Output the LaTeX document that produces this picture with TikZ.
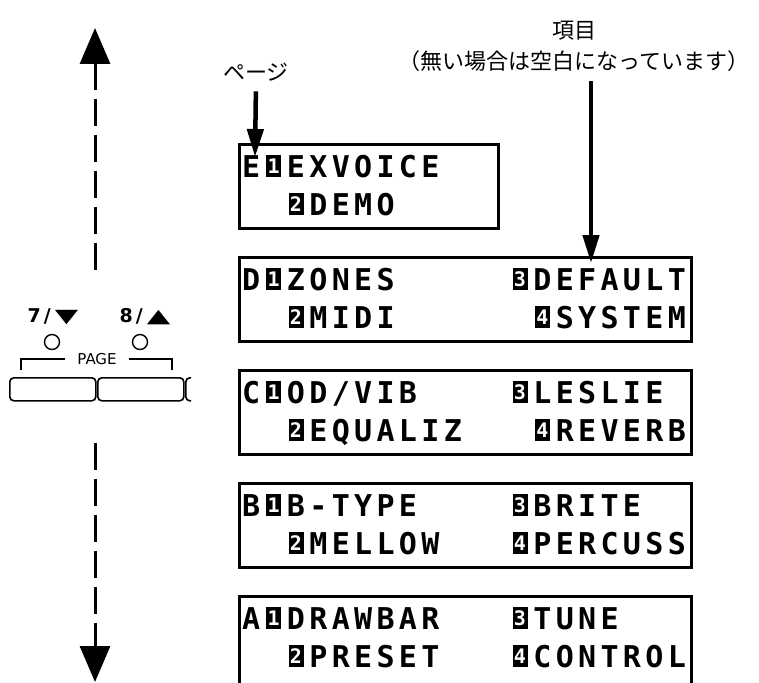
\documentclass[tikz,border=0pt]{standalone}
\usepackage{fontspec}
\usepackage{graphicx}
\usetikzlibrary{arrows.meta, positioning, calc}

\newfontfamily\lcdfont{DejaVu Sans Mono}
\newfontfamily\jpfont{Noto Sans CJK JP}
\newfontfamily\panelfont{DejaVu Sans}

% inverted digit cell of the display
\newcommand\inv[1]{\makebox[15pt]{\rlap{\rule{15pt}{22pt}}\makebox[15pt]{\raisebox{3.5pt}{\textcolor{white}{\fontsize{20}{20}\selectfont\bfseries #1}}}}}

% one display row: x of first cell, baseline, characters
\newcommand\lcdrow[3]{%
  \foreach \ch [count=\k from 0] in {#3}
    \node[lcdchar] at (#1+\k*22.4+11.2, #2) {\ch};}

\begin{document}
\begin{tikzpicture}[x=1pt, y=-1pt,
  lcdbox/.style={draw, line width=2.5pt, anchor=north west, inner sep=0pt, minimum height=84pt},
  lcdchar/.style={anchor=base, inner sep=0pt, font=\lcdfont\bfseries\fontsize{30}{30}\selectfont},
  callout/.style={line width=4.5pt, -{Triangle[width=16pt,length=28pt]}},
  pagearrow/.style={line width=3pt, dash pattern=on 27pt off 9pt, -{Triangle[width=30pt,length=36pt]}},
  pagebtn/.style={draw, line width=1.6pt, rounded corners=4pt, anchor=north west, minimum width=86pt, minimum height=23pt, inner sep=0pt},
  keylbl/.style={font=\panelfont\bfseries\fontsize{19}{19}\selectfont, inner sep=0pt},
  jplabel/.style={font=\jpfont\fontsize{22}{31}\selectfont, align=center, inner sep=0pt}]

\clip (0,0) rectangle (759,682);
\fill[white] (0,0) rectangle (759,682);

% page scroll arrows
\coordinate (upStart) at (95,270);
\coordinate (upEnd) at (95,28);
\coordinate (downStart) at (95,443);
\coordinate (downEnd) at (95,682);
\draw[pagearrow] (upStart) -- (upEnd);
\draw[pagearrow] (downStart) -- (downEnd);

% PAGE buttons
\node[keylbl] (keyDown) at (53,317) {7\kern3pt/\kern4pt\scalebox{1.6}[1]{▼}};
\node[keylbl] (keyUp) at (145,317) {8\kern3pt/\kern4pt\scalebox{1.6}[1]{▲}};
\node[circle, draw, line width=1.4pt, minimum size=15pt, inner sep=0pt] (ledDown) at (52,342) {};
\node[circle, draw, line width=1.4pt, minimum size=15pt, inner sep=0pt] (ledUp) at (140,342) {};
\node[font=\panelfont\fontsize{15}{15}\selectfont, inner xsep=12pt, inner ysep=0pt] (pageLbl) at (97,359) {PAGE};
\draw[line width=1.5pt] (pageLbl.west) -| (21,370);
\draw[line width=1.5pt] (pageLbl.east) -| (172,370);
\node[pagebtn] (btnDown) at (9,377) {};
\node[pagebtn] (btnUp) at (97,377) {};
\begin{scope}
  \clip (183,370) rectangle (191,405);
  \node[pagebtn] (btnNext) at (185,377) {};
\end{scope}

% display pages
\node[lcdbox, minimum width=259pt] (boxE) at (238,143) {};
\node[lcdbox, minimum width=452pt] (boxD) at (238,256) {};
\node[lcdbox, minimum width=452pt] (boxC) at (238,369) {};
\node[lcdbox, minimum width=452pt] (boxB) at (238,482) {};
\node[lcdbox, minimum width=452pt, minimum height=110pt] (boxA) at (238,595) {};

\lcdrow{240}{177}{E,\inv{1},E,X,V,O,I,C,E}
\lcdrow{240}{215}{{},{},\inv{2},D,E,M,O}
\lcdrow{240}{290}{D,\inv{1},Z,O,N,E,S,{},{},{},{},{},\inv{3},D,E,F,A,U,L,T}
\lcdrow{240}{328}{{},{},\inv{2},M,I,D,I,{},{},{},{},{},{},\inv{4},S,Y,S,T,E,M}
\lcdrow{240}{403}{C,\inv{1},O,D,/,V,I,B,{},{},{},{},\inv{3},L,E,S,L,I,E}
\lcdrow{240}{441}{{},{},\inv{2},E,Q,U,A,L,I,Z,{},{},{},\inv{4},R,E,V,E,R,B}
\lcdrow{240}{516}{B,\inv{1},B,-,T,Y,P,E,{},{},{},{},\inv{3},B,R,I,T,E}
\lcdrow{240}{554}{{},{},\inv{2},M,E,L,L,O,W,{},{},{},\inv{4},P,E,R,C,U,S,S}
\lcdrow{240}{629}{A,\inv{1},D,R,A,W,B,A,R,{},{},{},\inv{3},T,U,N,E}
\lcdrow{240}{667}{{},{},\inv{2},P,R,E,S,E,T,{},{},{},\inv{4},C,O,N,T,R,O,L}

% labels and pointers
\node[jplabel] (lblPage) at (256,72) {ページ};
\node[jplabel] (lblItem) at (574,46) {項目\\（無い場合は空白になっています）};
\coordinate (pageTip) at (255,157);
\coordinate (itemTip) at (591,263);
\draw[callout, shorten <=10pt] (lblPage.south) -- (pageTip);
\draw[callout, shorten <=10pt] (lblItem.south -| itemTip) -- (itemTip);
\end{tikzpicture}
\end{document}
